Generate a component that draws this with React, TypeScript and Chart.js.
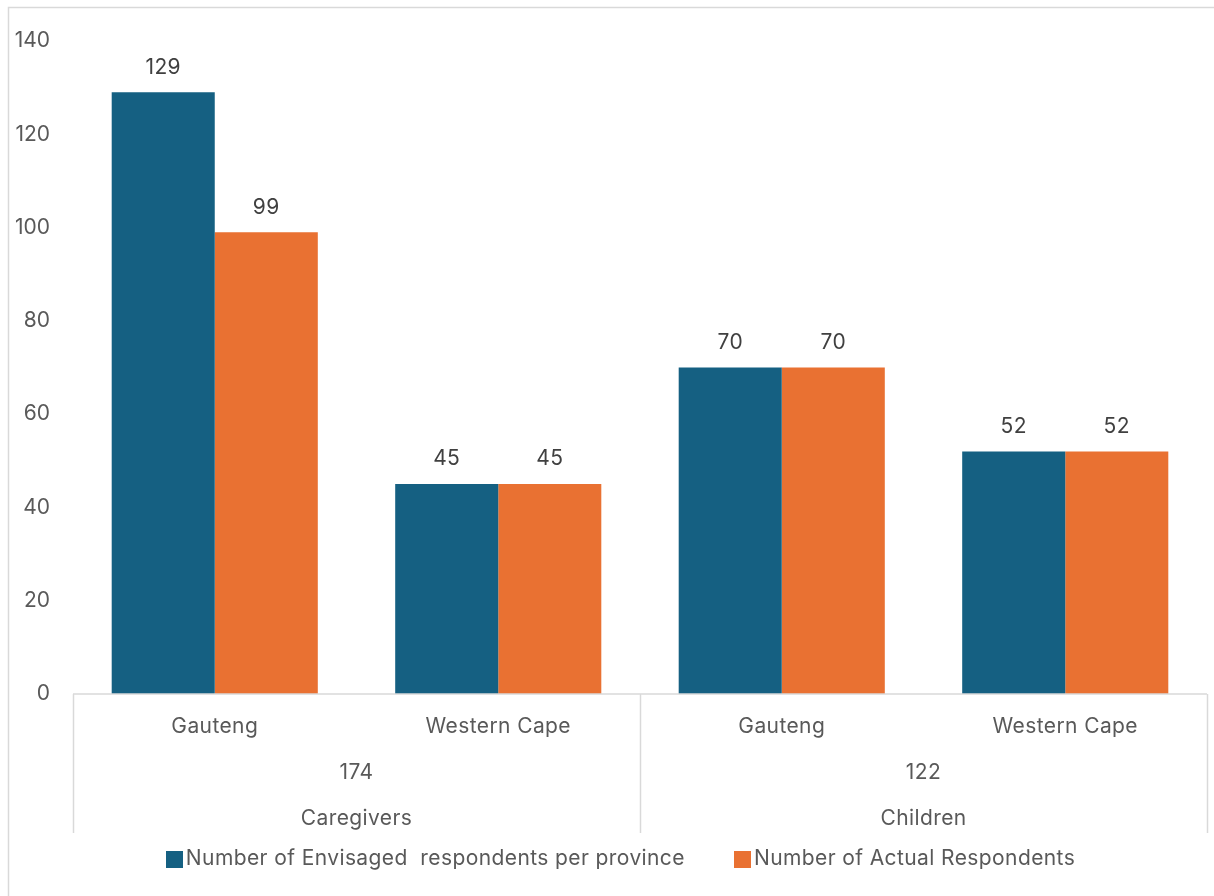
import React, { useEffect, useRef } from "react";
import { Chart, registerables } from "chart.js";

Chart.register(...registerables);

const categories = ["Gauteng", "Western Cape", "Gauteng", "Western Cape"];
const groupNames = ["Caregivers", "Children"];
const groupTotals = ["174", "122"];
const groupSizes = [2, 2];
const envisaged = [129, 45, 70, 52];
const actual = [99, 45, 70, 52];
const seriesLabels = [
  "Number of Envisaged  respondents per province",
  "Number of Actual Respondents",
];
const yMin = 0;
const yMax = 140;
const yStep = 20;

const FONT = "Inter";
const FS = 21;
const TEAL = "#156082";
const ORANGE = "#E97132";
const LINE = "#d9d9d9";

function setSpacing(ctx: any) {
  try {
    ctx.letterSpacing = "0.4px";
  } catch (e) {}
}

const multiAxisPlugin = {
  id: "multiAxis",
  afterDatasetsDraw(chart: any) {
    const ctx = chart.ctx;
    ctx.save();
    ctx.font = `${FS}px ${FONT}`;
    setSpacing(ctx);
    ctx.fillStyle = "#404040";
    ctx.textAlign = "center";
    ctx.textBaseline = "middle";
    chart.data.datasets.forEach((ds: any, di: number) => {
      const meta = chart.getDatasetMeta(di);
      meta.data.forEach((bar: any, i: number) => {
        ctx.fillText(String(ds.data[i]), bar.x, bar.y - 25);
      });
    });
    ctx.restore();
  },
  afterDraw(chart: any) {
    const ctx = chart.ctx;
    const area = chart.chartArea;
    const xs = chart.scales.x;
    const bottom = area.bottom;
    const axisH = 139;
    ctx.save();
    ctx.strokeStyle = LINE;
    ctx.lineWidth = 1.5;
    ctx.beginPath();
    ctx.moveTo(8.5, chart.height);
    ctx.lineTo(8.5, 7.5);
    ctx.lineTo(chart.width, 7.5);
    ctx.stroke();

    ctx.beginPath();
    ctx.moveTo(area.left, bottom);
    ctx.lineTo(area.right, bottom);
    ctx.stroke();

    const catW = (area.right - area.left) / categories.length;
    let idx = 0;
    const bounds = [0];
    groupSizes.forEach((s) => {
      idx += s;
      bounds.push(idx);
    });
    bounds.forEach((b) => {
      const x = Math.round(area.left + b * catW) + 0.5;
      ctx.beginPath();
      ctx.moveTo(x, bottom);
      ctx.lineTo(x, bottom + axisH);
      ctx.stroke();
    });

    ctx.font = `${FS}px ${FONT}`;
    setSpacing(ctx);
    ctx.fillStyle = "#595959";
    ctx.textAlign = "center";
    ctx.textBaseline = "middle";
    categories.forEach((c, i) => {
      ctx.fillText(c, xs.getPixelForValue(i), bottom + 33);
    });
    let start = 0;
    groupSizes.forEach((s, g) => {
      const cx = (xs.getPixelForValue(start) + xs.getPixelForValue(start + s - 1)) / 2;
      ctx.fillText(groupTotals[g], cx, bottom + 79);
      ctx.fillText(groupNames[g], cx, bottom + 125);
      start += s;
    });

    const box = 17;
    const gapText = 3;
    const gapItems = 49;
    const widths = chart.data.datasets.map((d: any) => ctx.measureText(d.label).width);
    const total = widths.reduce((a: number, w: number) => a + box + gapText + w, 0) + gapItems * (widths.length - 1);
    let x = 620.5 - total / 2;
    const ly = 859;
    ctx.textAlign = "left";
    chart.data.datasets.forEach((d: any, i: number) => {
      ctx.fillStyle = d.backgroundColor;
      ctx.fillRect(Math.round(x), Math.round(ly - box / 2), box, box);
      x += box + gapText;
      ctx.fillStyle = "#595959";
      ctx.fillText(d.label, x, ly);
      x += widths[i] + gapItems;
    });
    ctx.restore();
  },
};

export default function App() {
  const ref = useRef<HTMLCanvasElement>(null);
  useEffect(() => {
    if (!ref.current) return;
    const chart = new Chart(ref.current, {
      type: "bar",
      data: {
        labels: categories,
        datasets: [
          { label: seriesLabels[0], data: envisaged, backgroundColor: TEAL, categoryPercentage: 0.727, barPercentage: 1 },
          { label: seriesLabels[1], data: actual, backgroundColor: ORANGE, categoryPercentage: 0.727, barPercentage: 1 },
        ],
      },
      options: {
        animation: false,
        responsive: false,
        maintainAspectRatio: false,
        layout: { padding: { left: 0, top: 41, right: 7, bottom: 63 } },
        plugins: { legend: { display: false }, tooltip: { enabled: false } },
        scales: {
          x: {
            grid: { display: false },
            border: { display: false },
            ticks: { display: false },
            afterFit: (s: any) => {
              s.height = 139;
            },
          },
          y: {
            min: yMin,
            max: yMax,
            ticks: { stepSize: yStep, color: "#595959", font: { family: FONT, size: FS }, padding: 15 },
            grid: { display: false },
            border: { display: false },
            afterFit: (s: any) => {
              s.width = 73;
            },
          },
        },
      },
      plugins: [multiAxisPlugin],
    });
    return () => chart.destroy();
  }, []);
  return (
    <div style={{ position: "fixed", left: 0, top: 0, width: 1214, height: 896, background: "#fff" }}>
      <canvas ref={ref} width={1214} height={896} style={{ display: "block" }} />
    </div>
  );
}
